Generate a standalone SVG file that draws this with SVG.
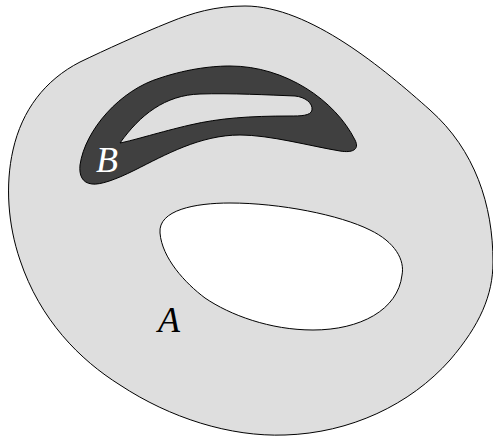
<svg xmlns="http://www.w3.org/2000/svg" width="493" height="437" viewBox="0 0 493 437">
<style>
.edge{stroke:#000;stroke-width:1;stroke-linejoin:round}
.lbl{font-family:"Liberation Serif","DejaVu Serif",serif;font-style:italic;font-size:36px}
</style>
<rect width="493" height="437" fill="#fff"/>
<g id="regionA">
<path class="edge" fill="#dedede" fill-rule="evenodd" d="M 245,6 C 215,6 192,13 170,22 C 140,34 105,50 80,62 C 45,80 22,110 13,150 C 5,185 8,225 20,260 C 40,320 80,360 120,385 C 170,418 230,437 285,435 C 350,433 410,405 450,360 C 480,325 493,295 493,262 C 493,205 475,150 430,110 C 385,70 310,6 245,6 Z M 160,233 C 158,210 195,203 230,203 C 280,203 340,215 370,230 C 395,242 405,260 402,275 C 398,310 360,330 313,330 C 270,330 230,315 205,298 C 185,283 162,258 160,233 Z"/>
<text class="lbl" x="158" y="332" fill="#000">A</text>
</g>
<g id="regionB">
<path class="edge" fill="#404040" fill-rule="evenodd" d="M 80,165 C 85,130 120,90 160,78 C 190,68 215,66 230,66 C 285,66 335,100 355,140 C 360,150 352,153 340,151 C 310,146 270,135 240,135 C 200,135 165,155 135,170 C 115,180 100,185 92,184 C 82,183 79,175 80,165 Z M 120,143 C 140,115 165,95 200,94 C 230,93 270,95 295,96 C 305,97 313,103 312,110 C 311,116 300,116 290,116 C 250,116 220,118 190,125 C 160,132 135,140 120,143 Z"/>
<text class="lbl" x="96" y="172" fill="#fff">B</text>
</g>
</svg>
